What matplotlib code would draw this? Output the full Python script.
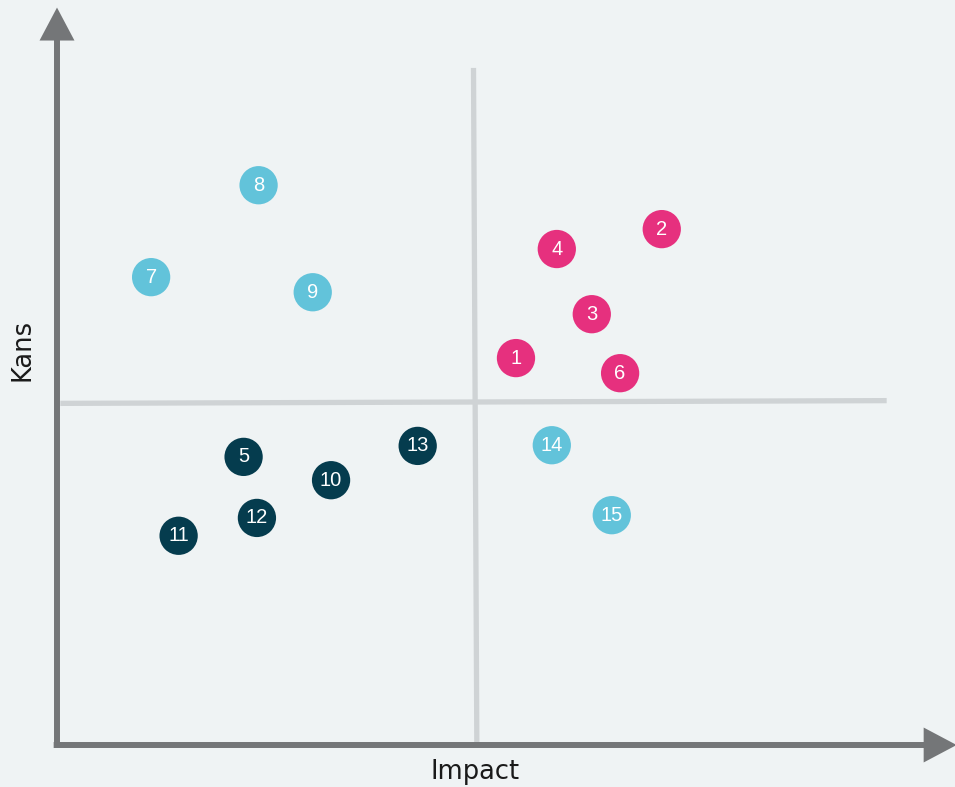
import matplotlib
matplotlib.use("Agg")
import matplotlib.pyplot as plt

labels = ["1", "2", "3", "4", "5", "6", "7", "8", "9", "10", "11", "12", "13", "14", "15"]
impact = [5.51, 7.26, 6.42, 6.00, 2.24, 6.76, 1.13, 2.42, 3.07, 3.29, 1.46, 2.40, 4.33, 5.94, 6.66]
kans = [5.64, 7.52, 6.28, 7.23, 4.20, 5.42, 6.82, 8.16, 6.60, 3.86, 3.05, 3.31, 4.36, 4.37, 3.35]
groups = ["pink", "pink", "pink", "pink", "navy", "pink", "cyan", "cyan", "cyan",
          "navy", "navy", "navy", "navy", "cyan", "cyan"]
colors = {"pink": "#e6307e", "cyan": "#62c3da", "navy": "#053c4e"}
x_label = "Impact"
y_label = "Kans"

plt.rcParams['font.family'] = ['Liberation Sans', 'DejaVu Sans']
bg = "#eff3f4"
fig = plt.figure(figsize=(9.55, 7.87), dpi=100, facecolor=bg)
W, H = 955, 787
ax = fig.add_axes([57 / W, (787 - 745) / H, (890 - 57) / W, 686 / H])
ax.set_facecolor(bg)
ax.set_xlim(0, 10)
ax.set_ylim(0, 10)
for s in ax.spines.values():
    s.set_visible(False)
ax.set_xticks([])
ax.set_yticks([])

# quadrant lines
grid_c = "#cfd3d5"
ax.plot([5.0, 5.04], [9.87, 0], color=grid_c, lw=3.8, solid_capstyle='butt', zorder=1, clip_on=False)
ax.plot([0.04, 9.96], [4.98, 5.02], color=grid_c, lw=3.8, solid_capstyle='butt', zorder=1, clip_on=False)

# axis arrows
axis_c = "#747678"
style = "-|>,head_length=0.85,head_width=0.45"
ax.annotate("", xy=(0, 10.75), xytext=(0, 0), xycoords='data', annotation_clip=False,
            arrowprops=dict(arrowstyle=style, mutation_scale=20, joinstyle='miter', capstyle='butt',
                            lw=4.3, color=axis_c, shrinkA=0, shrinkB=0), zorder=3)
ax.annotate("", xy=(10.80, 0), xytext=(-0.04, 0), xycoords='data', annotation_clip=False,
            arrowprops=dict(arrowstyle=style, mutation_scale=20, joinstyle='miter', capstyle='butt',
                            lw=4.3, color=axis_c, shrinkA=0, shrinkB=0), zorder=3)

for lab, x, y, g in zip(labels, impact, kans, groups):
    ax.scatter([x], [y], s=760, color=colors[g], edgecolors='none', zorder=4, clip_on=False)
    ax.text(x, y, lab, color="white", fontsize=14.5, ha='center', va='center', zorder=5)

fig.text(475 / W, 1 - 772 / H, x_label, fontsize=18.5, ha='center', va='center',
         color="#1a1a1a", family='DejaVu Sans')
fig.text(22 / W, 1 - 350 / H, y_label, fontsize=18.5, ha='center', va='center', rotation=90,
         color="#1a1a1a", family='DejaVu Sans')

fig.savefig("out.png", dpi=100, facecolor=bg)
